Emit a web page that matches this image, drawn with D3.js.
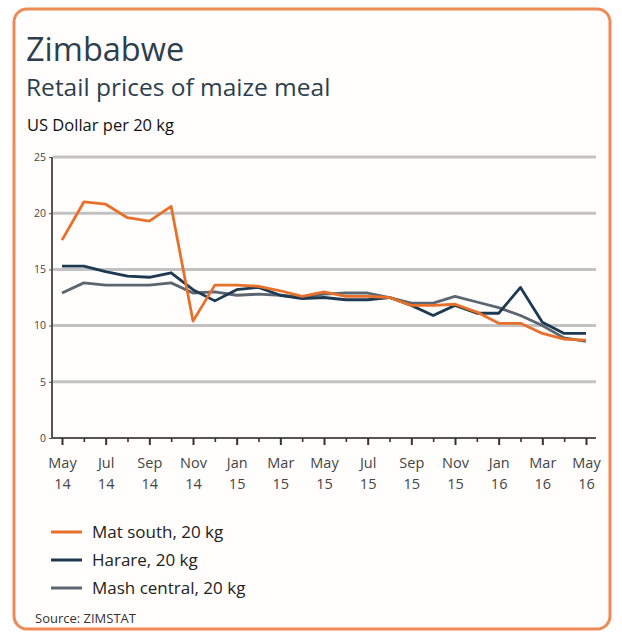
<!DOCTYPE html>
<html>
<head>
<meta charset="utf-8">
<script src="https://d3js.org/d3.v7.min.js"></script>
<style>
body { margin: 0; background: #fff; }
text { font-family: "Open Sans", sans-serif; }
</style>
</head>
<body>
<svg width="622" height="636"></svg>
<script>
// months May 2014 .. May 2016
var months = ["May 14","Jun 14","Jul 14","Aug 14","Sep 14","Oct 14","Nov 14","Dec 14",
  "Jan 15","Feb 15","Mar 15","Apr 15","May 15","Jun 15","Jul 15","Aug 15","Sep 15","Oct 15",
  "Nov 15","Dec 15","Jan 16","Feb 16","Mar 16","Apr 16","May 16"];
var matSouth = [17.6,21.0,20.8,19.6,19.3,20.6,10.4,13.6,13.6,13.5,13.1,12.6,13.0,12.6,12.6,12.5,
  11.8,11.8,11.9,11.2,10.2,10.2,9.3,8.8,8.7];
var harare = [15.3,15.3,14.8,14.4,14.3,14.7,13.2,12.2,13.2,13.4,12.7,12.4,12.5,12.3,12.3,12.5,
  11.8,10.9,11.8,11.1,11.1,13.4,10.3,9.3,9.3];
var mashCentral = [12.9,13.8,13.6,13.6,13.6,13.8,12.9,13.0,12.7,12.8,12.7,12.5,12.8,12.9,12.9,12.5,
  12.0,12.0,12.6,12.1,11.6,10.9,10.0,8.9,8.6];
var yTicks = [0,5,10,15,20,25];

var series = [
  {name: "Mat south, 20 kg", values: matSouth, color: "#e8702a"},
  {name: "Harare, 20 kg", values: harare, color: "#1e3a52"},
  {name: "Mash central, 20 kg", values: mashCentral, color: "#5b6670"}
];

var svg = d3.select("svg");

// frame
svg.append("rect").attr("x", 14).attr("y", 9).attr("width", 596).attr("height", 620)
  .attr("rx", 13).attr("fill", "#fffefc").attr("stroke", "#ee8a55").attr("stroke-width", 3);

svg.append("text").attr("x", 26).attr("y", 61).text("Zimbabwe")
  .style("font-size", "32.5px").attr("fill", "#2d3e4e");
svg.append("text").attr("x", 26).attr("y", 96).text("Retail prices of maize meal")
  .style("font-size", "24.5px").attr("fill", "#2d3e4e");
svg.append("text").attr("x", 27).attr("y", 131).text("US Dollar per 20 kg")
  .style("font-size", "16.5px").attr("fill", "#111");

var x = d3.scaleLinear().domain([0, months.length - 1]).range([62, 586]);
var y = d3.scaleLinear().domain([0, 25]).range([438, 157]);

// gridlines
svg.selectAll(".grid").data(yTicks.filter(function(d){ return d > 0; })).enter()
  .append("line").attr("class", "grid")
  .attr("x1", 53).attr("x2", 596)
  .attr("y1", function(d){ return y(d); }).attr("y2", function(d){ return y(d); })
  .attr("stroke", "#c2c2c2").attr("stroke-width", 3);

// y axis
var yAxis = svg.append("g").attr("transform", "translate(52,0)")
  .call(d3.axisLeft(y).tickValues(yTicks).tickSize(3).tickPadding(3));
yAxis.select(".domain").attr("stroke", "#555").attr("stroke-width", 2).attr("d", "M0,157V438");
yAxis.selectAll(".tick line").attr("stroke", "#555");
yAxis.selectAll(".tick text").style("font-size", "10.5px").attr("fill", "#444")
  .style("font-family", "'Open Sans', sans-serif");

// x axis with monthly ticks, labels every two months
var xAxis = svg.append("g").attr("transform", "translate(0,438)")
  .call(d3.axisBottom(x).tickValues(d3.range(months.length)).tickSize(0).tickFormat(""));
xAxis.select(".domain").attr("stroke", "#555").attr("stroke-width", 2).attr("d", "M52,0H596");
xAxis.selectAll(".tick line")
  .attr("y2", function(d){ return d % 2 === 0 ? 7 : 4; })
  .attr("stroke", "#333").attr("stroke-width", function(d){ return d % 2 === 0 ? 2 : 1.6; });
var lab = xAxis.selectAll(".tick").filter(function(d){ return d % 2 === 0; }).select("text");
lab.attr("fill", "#444").style("font-size", "14.5px").attr("y", 0).attr("dy", 0)
  .style("font-family", "'Open Sans', sans-serif")
  .each(function(d){
    var parts = months[d].split(" ");
    var t = d3.select(this);
    t.append("tspan").attr("x", 0).attr("y", 30).text(parts[0]);
    t.append("tspan").attr("x", 0).attr("y", 51).text(parts[1]);
  });

// lines
var line = d3.line().x(function(d, i){ return x(i); }).y(function(d){ return y(d); });
svg.selectAll(".series").data(series.slice().reverse()).enter()
  .append("path").attr("class", "series")
  .attr("d", function(s){ return line(s.values); })
  .attr("fill", "none").attr("stroke", function(s){ return s.color; })
  .attr("stroke-width", 2.8).attr("stroke-linejoin", "round");

// legend
var leg = svg.selectAll(".leg").data(series).enter().append("g").attr("class", "leg")
  .attr("transform", function(d, i){ return "translate(51," + (532 + i * 28) + ")"; });
leg.append("line").attr("x1", 0).attr("x2", 31).attr("stroke", function(d){ return d.color; })
  .attr("stroke-width", 3);
leg.append("text").attr("x", 41).attr("y", 6).text(function(d){ return d.name; })
  .style("font-size", "17px").attr("fill", "#222");

svg.append("text").attr("x", 35).attr("y", 623).text("Source: ZIMSTAT")
  .style("font-size", "13px").attr("fill", "#333");
</script>
</body>
</html>
